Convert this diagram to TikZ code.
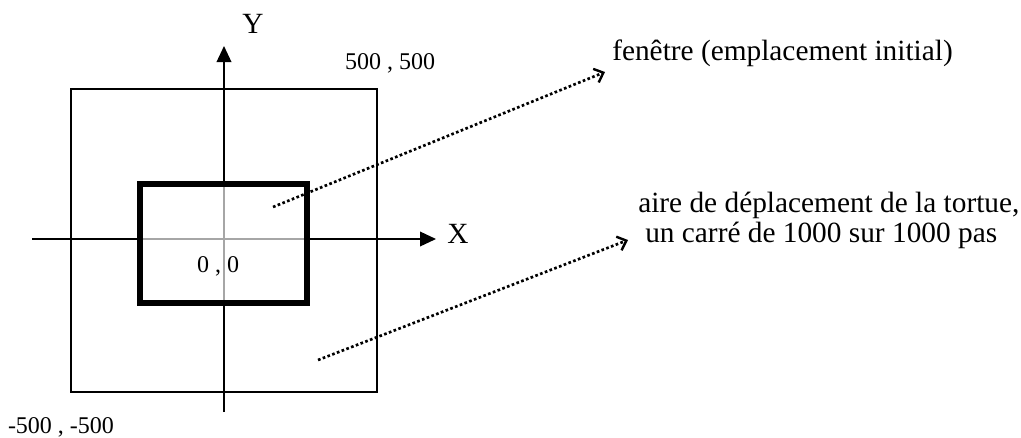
\documentclass[tikz,border=0pt]{standalone}
\usepackage{fontspec}
\setmainfont{Liberation Serif}
\usetikzlibrary{arrows.meta}
\begin{document}
\begin{tikzpicture}[x=0.75pt,y=-0.75pt,
  lbl/.style={inner sep=0pt,anchor=base,font=\fontsize{22}{26}\selectfont},
  num/.style={inner sep=0pt,anchor=base,font=\fontsize{18}{22}\selectfont},
  axis/.style={line width=1.1pt,-{Triangle[length=12pt,width=11pt]}},
  pointer/.style={line width=2pt,dash pattern=on 2pt off 1.8pt,-{Straight Barb[length=6pt,width=11pt,line width=1.8pt]}}]
\useasboundingbox (0,0) rectangle (1021,437);
% outer square (turtle area)
\draw[line width=1pt] (71,89) rectangle (377,392);
% axes
\coordinate (xs) at (32,239);
\coordinate (xe) at (436,239);
\coordinate (ys) at (224,412);
\coordinate (ye) at (224,46);
\draw[axis] (xs) -- (xe);
\draw[axis] (ys) -- (ye);
% window
\fill[white] (140,184) rectangle (307,303);
\draw[gray!70,line width=1pt] (140,239) -- (307,239) (224,184) -- (224,303);
\draw[line width=3.8pt] (140,184) rectangle (307,303);
% labels
\node[lbl] (Y) at (253,33) {Y};
\node[lbl] (X) at (458,243) {X};
\node[num] (o) at (218,272) {0 , 0};
\node[num] (tr) at (390,69) {500 , 500};
\node[num] (bl) at (61,433) {-500 , -500};
\node[lbl,anchor=base west] (fen) at (612,60) {fenêtre (emplacement initial)};
\node[lbl,anchor=base west] (aire) at (638,212) {aire de déplacement de la tortue,};
\node[lbl,anchor=base west] (car) at (645,242) {un carré de 1000 sur 1000 pas};
% pointers
\coordinate (p1s) at (273,207);
\coordinate (p1e) at (605,72);
\coordinate (p2s) at (318,360);
\coordinate (p2e) at (628,240);
\draw[pointer] (p1s) -- (p1e);
\draw[pointer] (p2s) -- (p2e);
\end{tikzpicture}
\end{document}
